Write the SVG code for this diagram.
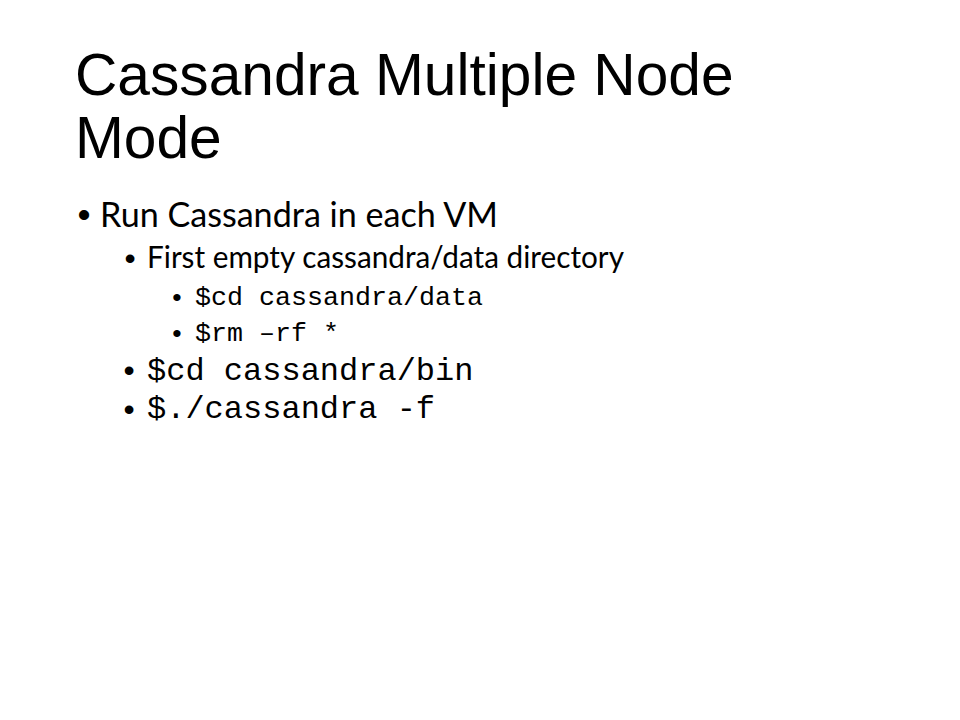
<svg xmlns="http://www.w3.org/2000/svg" width="960" height="720" viewBox="0 0 960 720">
  <style>
    .title { font-family: "Liberation Sans", Arial, sans-serif; font-size: 58.67px; fill: #000; }
    .body { font-family: Lato, "Open Sans", "Liberation Sans", sans-serif; fill: #000; }
    .mono { font-family: "Liberation Mono", "Courier New", monospace; fill: #000; }
    .bul { font-family: "Liberation Sans", Arial, sans-serif; fill: #000; }
  </style>
  <rect width="960" height="720" fill="#fff"/>
  <g id="title">
    <text class="title" x="75" y="95">Cassandra Multiple Node</text>
    <text class="title" x="75" y="158">Mode</text>
  </g>
  <g id="bullets">
    <g id="l1-run">
      <text class="bul" x="77.5" y="226.5" font-size="37.33">•</text>
      <text class="body" x="100" y="227" font-size="35" textLength="398" lengthAdjust="spacingAndGlyphs">Run Cassandra in each VM</text>
    </g>
    <g id="l2-first">
      <text class="bul" x="124.5" y="268.5" font-size="32">•</text>
      <text class="body" x="147" y="268" font-size="30" textLength="477" lengthAdjust="spacingAndGlyphs">First empty cassandra/data directory</text>
    </g>
    <g id="l3-cd-data">
      <text class="bul" x="172.3" y="305.6" font-size="26.67">•</text>
      <text class="mono" x="195" y="305" font-size="26.67">$cd cassandra/data</text>
    </g>
    <g id="l3-rm">
      <text class="bul" x="172.3" y="341.6" font-size="26.67">•</text>
      <text class="mono" x="195" y="341" font-size="26.67">$rm –rf *</text>
    </g>
    <g id="l2-cd-bin">
      <text class="bul" x="123.5" y="381" font-size="32">•</text>
      <text class="mono" x="147" y="380" font-size="32">$cd cassandra/bin</text>
    </g>
    <g id="l2-run">
      <text class="bul" x="123.5" y="420" font-size="32">•</text>
      <text class="mono" x="147" y="418" font-size="32">$./cassandra -f</text>
    </g>
  </g>
</svg>
